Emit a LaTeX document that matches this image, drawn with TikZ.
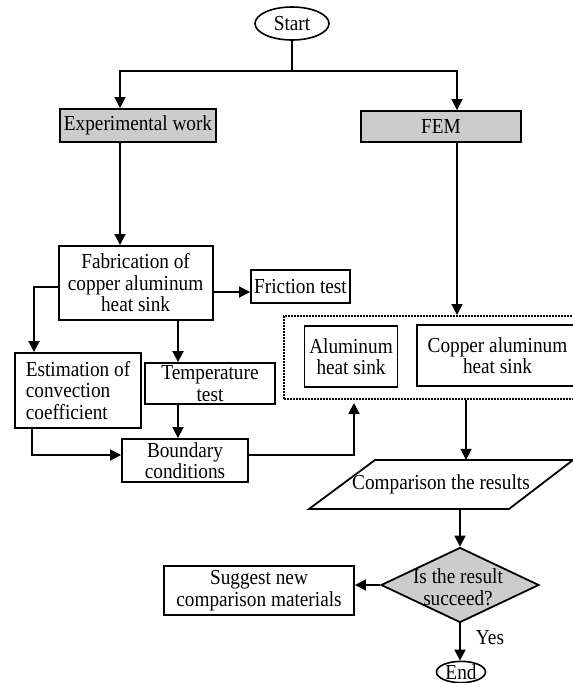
\documentclass[tikz,border=0pt]{standalone}
\usepackage{fontspec}
\setmainfont[FakeStretch=0.9]{Liberation Serif}
\usetikzlibrary{arrows.meta,shapes.geometric,calc}
\definecolor{boxgray}{RGB}{204,204,204}
\begin{document}
\begin{tikzpicture}[x=1pt,y=-1pt,
  every node/.style={font=\fontsize{21.4}{21.5}\selectfont},
  box/.style={draw, line width=1.9pt, inner sep=0pt, align=center},
  graybox/.style={box, fill=boxgray},
  oval/.style={draw, ellipse, line width=1.6pt, inner sep=0pt},
  arr/.style={line width=1.8pt, -{Triangle[length=11pt,width=11pt]}},
  ln/.style={line width=1.8pt}
]
\clip (0,0) rectangle (573,683);

% nodes
\node[oval, minimum width=74pt, minimum height=33pt] (start) at (292,23.5) {Start};
\node[graybox, minimum width=156pt, minimum height=33pt] (exp) at (138,125.5) {Experimental work};
\node[graybox, minimum width=160pt, minimum height=31pt] (fem) at (441,126.5) {FEM};
\node[box, minimum width=154pt, minimum height=74pt] (fab) at (135.6,283) {Fabrication of\\copper aluminum\\heat sink};
\node[box, minimum width=99pt, minimum height=33pt] (fric) at (300.5,286.5) {Friction test};
\node[box, minimum width=126pt, minimum height=75pt, align=left] (est) at (78,390.5) {Estimation of\\convection\\coefficient};
\node[box, minimum width=129.5pt, minimum height=41pt] (temp) at (210,383.5) {Temperature\\test};
\node[box, minimum width=126pt, minimum height=43pt] (bnd) at (185,460.5) {Boundary\\conditions};
\node[draw, line width=2pt, dash pattern=on 1.6pt off 1.4pt, minimum width=296pt, minimum height=83pt, inner sep=0pt] (grp) at (432,357.5) {};
\node[box, minimum width=93pt, minimum height=61pt] (alu) at (351,356.5) {Aluminum\\heat sink};
\node[box, minimum width=161pt, minimum height=61pt] (cu) at (497.5,355.5) {Copper aluminum\\heat sink};

\node[inner sep=0pt, minimum width=200pt, minimum height=49pt] (cmp) at (441,484.5) {Comparison the results};
\draw[ln] ($(cmp.center)+(-66,-24.5)$) -- ($(cmp.center)+(132,-24.5)$) -- ($(cmp.center)+(68,24.5)$) -- ($(cmp.center)+(-132,24.5)$) -- cycle;

\node[diamond, draw, fill=boxgray, line width=1.8pt, minimum width=158pt, minimum height=75pt, inner sep=0pt] (dia) at (460,585) {};
\node[align=center, inner sep=0pt] (diat) at (458,587) {Is the result\\succeed?};
\node[box, minimum width=190pt, minimum height=49pt] (sug) at (259,590.5) {Suggest new\\comparison materials};
\node[oval, minimum width=49pt, minimum height=21pt] (end) at (461,672) {End};
\node (yes) at (490,638) {Yes};

% helper coordinates
\coordinate (xl) at (120,0);
\coordinate (xr) at (457,0);
\coordinate (split) at (292,71);
\coordinate (yf) at (0,292);
\coordinate (yl) at (0,287);
\coordinate (xe) at (34,0);
\coordinate (xt) at (178,0);
\coordinate (yb) at (0,455);
\coordinate (xs) at (32,0);
\coordinate (xu) at (354,0);
\coordinate (xc) at (466,0);

% connectors
\draw[arr] (start.south) |- (xl |- split) -- (xl |- exp.north);
\draw[arr] (start.south) |- (xr |- split) -- (xr |- fem.north);
\draw[arr] (xl |- exp.south) -- (xl |- fab.north);
\draw[arr] (xr |- fem.south) -- (xr |- grp.north);
\draw[arr] (fab.east |- yf) -- (fric.west |- yf);
\draw[arr] (fab.west |- yl) -| (xe |- est.north);
\draw[arr] (xt |- fab.south) -- (xt |- temp.north);
\draw[arr] (xt |- temp.south) -- (xt |- bnd.north);
\draw[arr] (xs |- est.south) |- (bnd.west |- yb);
\draw[arr, shorten >=3pt] (bnd.east |- yb) -| (xu |- grp.south);
\draw[arr] (xc |- grp.south) -- (xc |- cmp.north);
\draw[arr] (dia.north |- cmp.south) -- (dia.north);
\draw[arr] (dia.west) -- (dia.west -| sug.east);
\draw[arr] (dia.south) -- (dia.south |- end.north);
\end{tikzpicture}
\end{document}
